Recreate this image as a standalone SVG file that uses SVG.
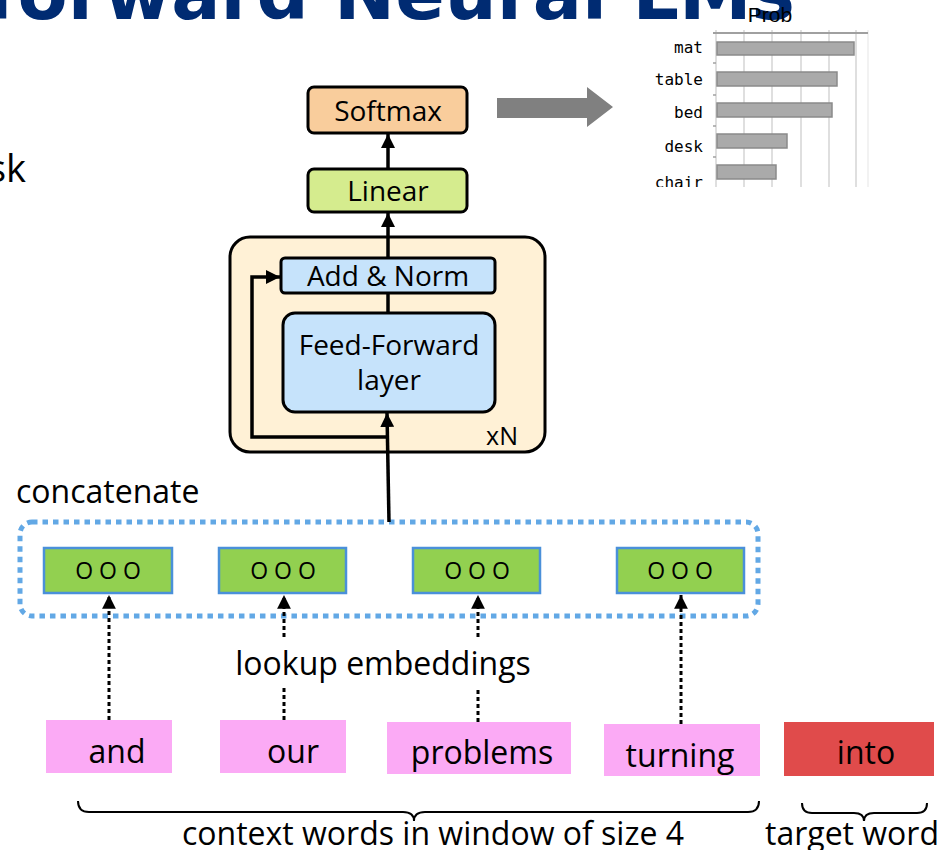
<svg xmlns="http://www.w3.org/2000/svg" width="945" height="850" viewBox="0 0 945 850">
  <defs>
    <style>
      .lbl { font-family: "Open Sans", "Liberation Sans", sans-serif; fill: #000; }
      .box { stroke: #000; stroke-width: 3; }
      .wire { stroke: #000; stroke-width: 3.5; fill: none; }
      .dots { stroke: #000; stroke-width: 3; stroke-dasharray: 4 3; fill: none; }
      .emb { fill: #92d050; stroke: #4a90d9; stroke-width: 2.5; }
      .word { fill: #fbaaf5; }
      .brace { stroke: #000; stroke-width: 2; fill: none; }
      .grid { stroke: #d4d4d4; stroke-width: 1.5; }
      .bar { fill: #aaaaaa; stroke: #8a8a8a; stroke-width: 1.5; }
      .tick { font-family: "DejaVu Sans Mono", monospace; font-size: 16px; fill: #000; }
    </style>
    <marker id="head" viewBox="0 0 10 10" refX="10" refY="5" markerWidth="4" markerHeight="4" orient="auto" markerUnits="strokeWidth">
      <path d="M0,0 L10,5 L0,10 Z" fill="#000"/>
    </marker>
    <marker id="headDot" viewBox="0 0 10 10" refX="10" refY="5" markerWidth="4.6" markerHeight="4.6" orient="auto" markerUnits="strokeWidth">
      <path d="M0,0 L10,5 L0,10 Z" fill="#000"/>
    </marker>
    <clipPath id="chartClip">
      <rect x="600" y="0" width="345" height="187"/>
    </clipPath>
  </defs>

  <rect width="945" height="850" fill="#fff"/>

  <!-- slide title, cut off by the top edge -->
  <text x="795" y="19" text-anchor="end" font-family="DejaVu Sans, Verdana, sans-serif" font-weight="bold" font-size="73" fill="#002b72">Feedforward Neural LMs</text>
  <text x="-12" y="182" class="lbl" font-size="38">sk</text>

  <!-- probability bar chart -->
  <g id="chart" clip-path="url(#chartClip)">
    <g class="grid">
      <line x1="716" y1="30" x2="716" y2="190"/>
      <line x1="744" y1="30" x2="744" y2="190"/>
      <line x1="772" y1="30" x2="772" y2="190"/>
      <line x1="801" y1="30" x2="801" y2="190"/>
      <line x1="829" y1="30" x2="829" y2="190"/>
      <line x1="856" y1="30" x2="856" y2="190"/>
      <line x1="868" y1="30" x2="868" y2="190" stroke="#eeeeee"/>
    </g>
    <line x1="713" y1="33" x2="868" y2="33" stroke="#a0a0a0" stroke-width="2"/>
    <g stroke="#a0a0a0" stroke-width="1.5">
      <line x1="713" y1="63" x2="716" y2="63"/>
      <line x1="713" y1="95" x2="716" y2="95"/>
      <line x1="713" y1="126" x2="716" y2="126"/>
      <line x1="713" y1="157" x2="716" y2="157"/>
    </g>
    <rect class="bar" x="717" y="42" width="137" height="13"/>
    <rect class="bar" x="717" y="72" width="120" height="14"/>
    <rect class="bar" x="717" y="103" width="115" height="14"/>
    <rect class="bar" x="717" y="134" width="70" height="14"/>
    <rect class="bar" x="717" y="165" width="59" height="14"/>
    <g text-anchor="end">
      <text class="tick" x="703" y="53">mat</text>
      <text class="tick" x="703" y="85">table</text>
      <text class="tick" x="703" y="118">bed</text>
      <text class="tick" x="703" y="152">desk</text>
      <text class="tick" x="703" y="188">chair</text>
    </g>
  </g>
  <text x="770" y="22" text-anchor="middle" font-family="Liberation Sans, sans-serif" font-size="21" fill="#000">Prob</text>

  <!-- wide gray arrow from softmax to the chart -->
  <polygon points="497,98 587,98 587,87 613,107 587,127 587,118 497,118" fill="#808080"/>

  <!-- transformer-style block -->
  <g id="block">
    <rect x="230" y="237" width="315" height="215" rx="20" fill="#fff1d6" class="box"/>
    <text x="518" y="445" text-anchor="end" class="lbl" font-size="25">xN</text>
  </g>
  <g id="softmax">
    <rect x="308" y="87" width="159" height="46" rx="6" fill="#f9cd9c" class="box"/>
    <text x="388" y="121" text-anchor="middle" class="lbl" font-size="28">Softmax</text>
  </g>
  <g id="linear">
    <rect x="308" y="169" width="159" height="43" rx="6" fill="#d5ec8e" class="box"/>
    <text x="388" y="201" text-anchor="middle" class="lbl" font-size="28">Linear</text>
  </g>
  <g id="addnorm">
    <rect x="281" y="258" width="214" height="35" rx="4" fill="#c6e3fb" class="box"/>
    <text x="388" y="286" text-anchor="middle" class="lbl" font-size="28">Add &amp; Norm</text>
  </g>
  <g id="feedforward">
    <rect x="283" y="313" width="212" height="99" rx="12" fill="#c6e3fb" class="box"/>
    <text x="389" y="355" text-anchor="middle" class="lbl" font-size="28">Feed-Forward</text>
    <text x="389" y="390" text-anchor="middle" class="lbl" font-size="28">layer</text>
  </g>

  <!-- concatenated embeddings -->
  <g id="concat">
    <text x="16" y="503" class="lbl" font-size="32">concatenate</text>
    <rect x="20" y="522" width="738" height="94" rx="12" fill="none" stroke="#62a8e5" stroke-width="5" stroke-dasharray="5.5 5"/>
  </g>
  <g id="emb1">
    <rect class="emb" x="44" y="548" width="128" height="45"/>
    <text x="108" y="579" text-anchor="middle" class="lbl" font-size="23">O O O</text>
  </g>
  <g id="emb2">
    <rect class="emb" x="219" y="548" width="127" height="45"/>
    <text x="283" y="579" text-anchor="middle" class="lbl" font-size="23">O O O</text>
  </g>
  <g id="emb3">
    <rect class="emb" x="413" y="548" width="127" height="45"/>
    <text x="477" y="579" text-anchor="middle" class="lbl" font-size="23">O O O</text>
  </g>
  <g id="emb4">
    <rect class="emb" x="617" y="548" width="127" height="45"/>
    <text x="680" y="579" text-anchor="middle" class="lbl" font-size="23">O O O</text>
  </g>

  <!-- words in the window -->
  <g id="w-and">
    <rect class="word" x="46" y="720" width="126" height="53"/>
    <text x="117" y="763" text-anchor="middle" class="lbl" font-size="32">and</text>
  </g>
  <g id="w-our">
    <rect class="word" x="220" y="720" width="126" height="53"/>
    <text x="293" y="763" text-anchor="middle" class="lbl" font-size="32">our</text>
  </g>
  <g id="w-problems">
    <rect class="word" x="387" y="722" width="184" height="52"/>
    <text x="482" y="764" text-anchor="middle" class="lbl" font-size="32">problems</text>
  </g>
  <g id="w-turning">
    <rect class="word" x="604" y="724" width="156" height="52"/>
    <text x="680" y="767" text-anchor="middle" class="lbl" font-size="32">turning</text>
  </g>
  <g id="w-into">
    <rect x="784" y="722" width="150" height="54" fill="#e04b4b"/>
    <text x="866" y="764" text-anchor="middle" class="lbl" font-size="32">into</text>
  </g>

  <text x="383" y="675" text-anchor="middle" class="lbl" font-size="32">lookup embeddings</text>

  <!-- connectors -->
  <g id="connectors">
    <line class="wire" x1="388" y1="169" x2="388" y2="134" marker-end="url(#head)"/>
    <line class="wire" x1="388" y1="258" x2="388" y2="213" marker-end="url(#head)"/>
    <line class="wire" x1="388" y1="313" x2="388" y2="293"/>
    <line class="wire" x1="389" y1="522" x2="387" y2="413" marker-end="url(#head)"/>
    <polyline class="wire" points="388,437 252,437 252,277 280,277" marker-end="url(#head)"/>

    <line class="dots" x1="109" y1="720" x2="109" y2="595" marker-end="url(#headDot)"/>
    <line class="dots" x1="284" y1="720" x2="284" y2="688"/>
    <line class="dots" x1="284" y1="637" x2="284" y2="595" marker-end="url(#headDot)"/>
    <line class="dots" x1="478" y1="722" x2="478" y2="688"/>
    <line class="dots" x1="478" y1="637" x2="478" y2="595" marker-end="url(#headDot)"/>
    <line class="dots" x1="681" y1="724" x2="681" y2="595" marker-end="url(#headDot)"/>
  </g>

  <!-- braces under the words -->
  <g id="context-brace">
    <path class="brace" d="M78,801 Q78,812 89,812 L403,812 Q414,812 414,821 Q414,812 425,812 L748,812 Q759,812 759,801"/>
    <text x="433" y="845" text-anchor="middle" class="lbl" font-size="32">context words in window of size 4</text>
  </g>
  <g id="target-brace">
    <path class="brace" d="M802,803 Q802,813 812,813 L854,813 Q864,813 864,821 Q864,813 874,813 L917,813 Q927,813 927,803"/>
    <text x="852" y="845" text-anchor="middle" class="lbl" font-size="32">target word</text>
  </g>
</svg>
